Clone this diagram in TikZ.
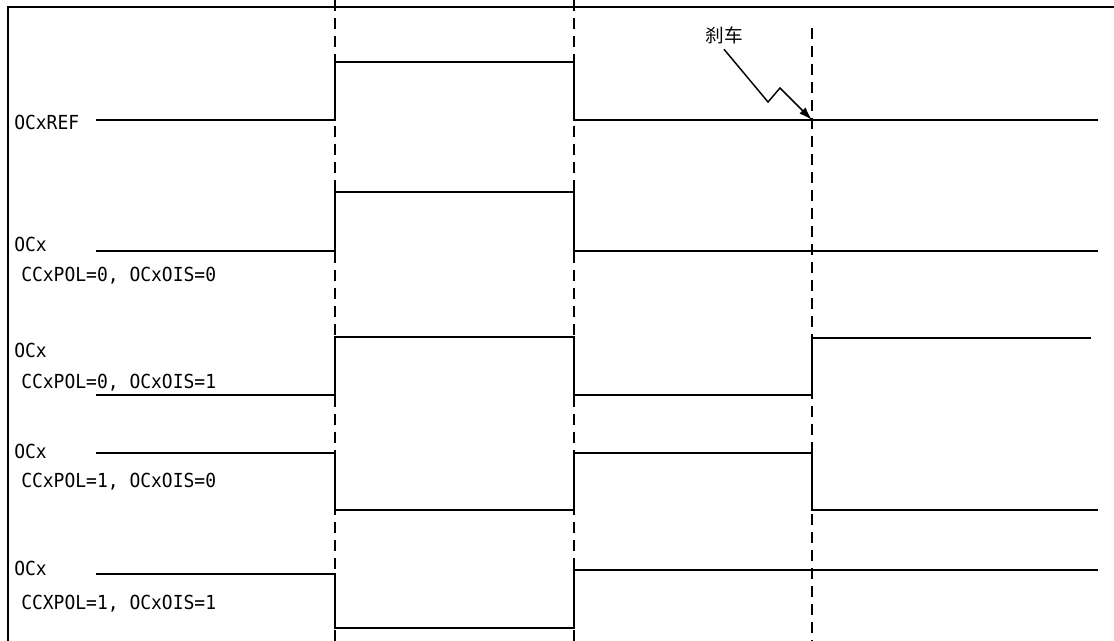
\documentclass[tikz,border=0pt]{standalone}
\usepackage{fontspec}
\setmonofont[FakeStretch=0.93]{DejaVu Sans Mono}
\newfontfamily\cjk{Noto Sans CJK SC}
\usetikzlibrary{arrows.meta}

\begin{document}
\begin{tikzpicture}[x=0.75pt, y=-0.75pt,
    sig/.style={line width=1.1pt},
    tmark/.style={line width=1.1pt, dash pattern=on 8.25pt off 5.25pt},
    lbl/.style={anchor=base west, inner sep=0pt, font=\ttfamily\fontsize{14.5}{17}\selectfont}]
    \useasboundingbox (0,0) rectangle (1114,641);

    % Frame
    \draw[line width=1.5pt] (8,641) -- (8,7) -- (1114,7);

    % Time marks
    \foreach \t in {335,574}
        \draw[tmark] (\t,0) -- (\t,641);
    \draw[tmark] (812,28) -- (812,641);

    % Labels
    \node[lbl] (ref) at (14,129.5) {OCxREF};
    \node[lbl] (oca) at (14,252) {OCx};
    \node[lbl] (pola) at (21,282) {CCxPOL=0, OCxOIS=0};
    \node[lbl] (ocb) at (14,358) {OCx};
    \node[lbl] (polb) at (21,389) {CCxPOL=0, OCxOIS=1};
    \node[lbl] (occ) at (14,459) {OCx};
    \node[lbl] (polc) at (21,488) {CCxPOL=1, OCxOIS=0};
    \node[lbl] (ocd) at (14,575) {OCx};
    \node[lbl] (pold) at (21,609) {CCXPOL=1, OCxOIS=1};

    % Waveforms
    \draw[sig] (96,120) -- (335,120) -- (335,62) -- (574,62) -- (574,120) -- (1098,120);
    \draw[sig] (96,251) -- (335,251) -- (335,192) -- (574,192) -- (574,251) -- (1098,251);
    \draw[sig] (96,395) -- (335,395) -- (335,337) -- (574,337) -- (574,395) -- (812,395) -- (812,338) -- (1091,338);
    \draw[sig] (96,453) -- (335,453) -- (335,510) -- (574,510) -- (574,453) -- (812,453) -- (812,510) -- (1098,510);
    \draw[sig] (96,574) -- (335,574) -- (335,628) -- (574,628) -- (574,570) -- (1098,570);

    % Brake event
    \node[inner sep=0pt, font=\cjk\fontsize{14}{17}\selectfont] (brk) at (724,35) {刹车};
    \coordinate (brkpt) at (812,120);
    \draw[sig, -{Latex[length=10pt, width=6.5pt]}] ([yshift=-4pt]brk.south) -- (768,102) -- (780,88) -- (brkpt);
\end{tikzpicture}
\end{document}
